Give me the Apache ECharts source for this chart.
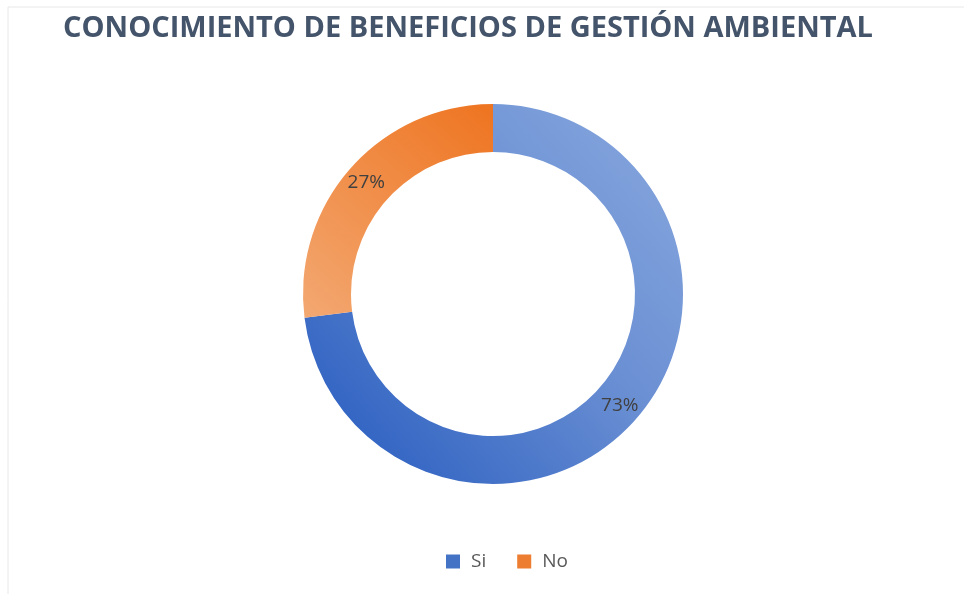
<!DOCTYPE html>
<html>
<head>
<meta charset="utf-8">
<script src="https://cdn.jsdelivr.net/npm/echarts@6/dist/echarts.min.js"></script>
<style>
  html, body { margin: 0; padding: 0; background: #fff; }
  #chart { width: 964px; height: 594px; }
</style>
</head>
<body>
<div id="chart"></div>
<script>
const categories = ['Si', 'No'];
const values = [73, 27];

const chart = echarts.init(document.getElementById('chart'));

// gradient fills per slice
const fills = [
  new echarts.graphic.LinearGradient(1, 0.1, 0.1, 0.9, [
    { offset: 0, color: '#86a6dd' },
    { offset: 0.45, color: '#6a8fd3' },
    { offset: 1, color: '#2f62c2' }
  ]),
  new echarts.graphic.LinearGradient(1, 0, 0, 1, [
    { offset: 0, color: '#ee7420' },
    { offset: 1, color: '#f3a872' }
  ])
];
const legendColors = ['#4472c4', '#ed7d31'];

chart.setOption({
  animation: false,
  title: {
    text: 'CONOCIMIENTO DE BENEFICIOS DE GESTIÓN AMBIENTAL',
    left: 58,
    top: 9,
    textStyle: {
      fontFamily: 'Open Sans',
      fontWeight: 'bold',
      fontSize: 29,
      color: '#44546a'
    }
  },
  legend: {
    bottom: 18,
    left: 441,
    itemWidth: 14,
    itemHeight: 14,
    itemGap: 31,
    icon: 'rect',
    textStyle: { fontFamily: 'Open Sans', fontSize: 19, color: '#595959', padding: [0, 0, 0, 6] },
    data: categories.map((c, i) => ({ name: c, itemStyle: { color: legendColors[i] } }))
  },
  graphic: [{
    type: 'polyline',
    shape: { points: [[8, 594], [8, 7], [964, 7]] },
    style: { stroke: '#e8e8e8', lineWidth: 1, fill: null },
    silent: true
  }],
  series: [{
    type: 'pie',
    center: [493, 294],
    radius: [142, 190],
    startAngle: 90,
    clockwise: true,
    label: {
      show: true,
      position: 'inside',
      formatter: '{c}%',
      fontFamily: 'Open Sans',
      fontSize: 19,
      color: '#404040'
    },
    labelLine: { show: false },
    data: categories.map((c, i) => ({
      name: c,
      value: values[i],
      itemStyle: { color: fills[i] }
    }))
  }]
});
</script>
</body>
</html>
